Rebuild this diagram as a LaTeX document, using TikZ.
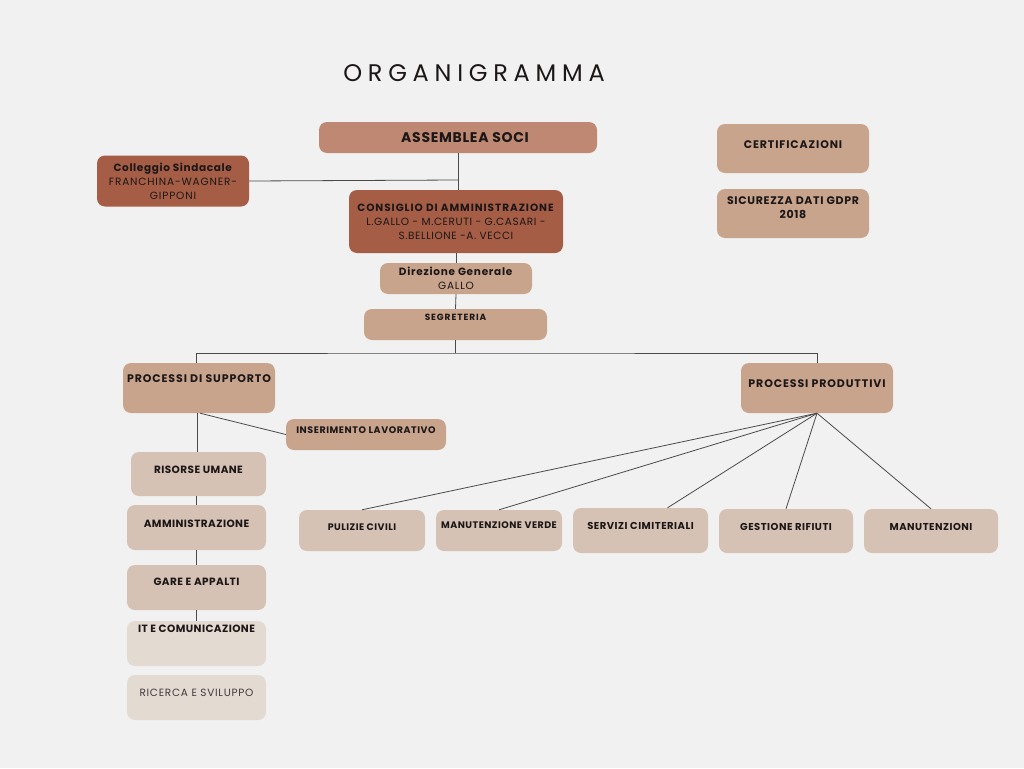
\documentclass[tikz,border=0pt]{standalone}
\usepackage{fontspec}
\setmainfont{Poppins}
\definecolor{paper}{HTML}{F1F1F1}
\definecolor{soci}{HTML}{BE8872}
\definecolor{rust}{HTML}{A65D45}
\definecolor{sand}{HTML}{C9A48D}
\definecolor{beige}{HTML}{D5C2B4}
\definecolor{pale}{HTML}{E3DAD2}
\definecolor{ink}{HTML}{1C1717}
\definecolor{wire}{HTML}{4A4A4A}
\newcommand{\spaced}[1]{\addfontfeature{LetterSpace=#1}}
\begin{document}
\begin{tikzpicture}[x=1pt,y=-1pt,
  box/.style={rounded corners=8pt,inner sep=0pt,text=ink,align=center},
  fs/.style 2 args={font=\fontsize{#1}{14}\selectfont\bfseries\spaced{#2}},
  sz/.style 2 args={minimum width=#1pt,minimum height=#2pt},
  lift/.style={text depth=#1pt},
  link/.style={draw=wire,line width=0.8pt}]
% Background
\fill[paper] (0,0) rectangle (1024,768);
\useasboundingbox (0,0) rectangle (1024,768);

% Title
\node[font=\fontsize{24}{24}\selectfont\spaced{24},text=ink] (title) at (474,73) {ORGANIGRAMMA};

% Governance
\node[box,fill=soci,sz={278}{31},fs={14}{5}] (soci) at (458,137.5) {\hspace*{14pt}ASSEMBLEA SOCI};
\node[box,fill=rust,sz={152}{51},font=\fontsize{10.5}{14}\selectfont] (sindacale) at (173,181)
  {\textbf{\spaced{6}Colleggio Sindacale}\\{\spaced{8}FRANCHINA-WAGNER-}\\{\spaced{8}GIPPONI}};
\node[box,fill=rust,sz={214}{63},font=\fontsize{10.5}{14}\selectfont] (cda) at (456,221.5)
  {\textbf{\spaced{9}CONSIGLIO DI AMMINISTRAZIONE}\\{\spaced{5.5}L.GALLO - M.CERUTI - G.CASARI -}\\{\spaced{5.5}S.BELLIONE -A. VECCI}};
\node[box,fill=sand,sz={152}{31},font=\fontsize{10.5}{14}\selectfont] (direzione) at (456,278.5)
  {\textbf{\spaced{7}Direzione Generale}\\{\spaced{8}GALLO}};
\node[box,fill=sand,sz={183}{31},fs={9}{10},lift=14] (segreteria) at (455.5,324.5) {SEGRETERIA};

% Side boxes
\node[box,fill=sand,sz={152}{49},fs={11}{8},lift=8] (certificazioni) at (793,148.5) {CERTIFICAZIONI};
\node[box,fill=sand,sz={152}{49},fs={11}{6},lift=12] (gdpr) at (793,213.5) {SICUREZZA DATI GDPR\\2018};

% Processi
\node[box,fill=sand,sz={152}{50},fs={11}{8},lift=19] (supporto) at (199,388) {PROCESSI DI SUPPORTO};
\node[box,fill=sand,sz={152}{50},fs={11}{8},lift=9] (produttivi) at (817,388) {PROCESSI PRODUTTIVI};
\node[box,fill=sand,sz={160}{31},fs={9.5}{6},lift=9] (inserimento) at (366,434.5) {INSERIMENTO LAVORATIVO};

% Supporto column
\node[box,fill=beige,sz={135}{44},fs={10.5}{4},lift=9] (risorse) at (198.5,474) {RISORSE UMANE};
\node[box,fill=beige,sz={139}{45},fs={10.5}{4},lift=8] (amministrazione) at (196.5,527.5) {AMMINISTRAZIONE};
\node[box,fill=beige,sz={139}{45},fs={10.5}{4},lift=12] (gare) at (196.5,587.5) {GARE E APPALTI};
\node[box,fill=pale,sz={139}{45},fs={10.5}{4},lift=30] (it) at (196.5,643.5) {IT E COMUNICAZIONE};
\node[box,fill=pale,sz={139}{45},lift=10,font=\fontsize{10.5}{14}\selectfont\spaced{7},text=ink!85] (ricerca) at (196.5,697.5) {RICERCA E SVILUPPO};

% Produttivi row
\node[box,fill=beige,sz={126}{41},fs={9.5}{5},lift=7] (pulizie) at (362,530.5) {PULIZIE CIVILI};
\node[box,fill=beige,sz={126}{41},fs={9.5}{5},lift=10] (verde) at (499,530.5) {MANUTENZIONE VERDE};
\node[box,fill=beige,sz={135}{45},fs={10}{5},lift=10] (cimiteriali) at (640.5,530.5) {SERVIZI CIMITERIALI};
\node[box,fill=beige,sz={134}{44},fs={10}{5},lift=9] (rifiuti) at (786,531) {GESTIONE RIFIUTI};
\node[box,fill=beige,sz={134}{44},fs={10}{5},lift=9] (manutenzioni) at (931,531) {MANUTENZIONI};

% Connectors
\coordinate (bus) at (456,353);
\draw[link] (soci.south) -- (soci.south |- cda.north);
\draw[link] (sindacale.east) -- ([yshift=1pt]soci.south |- sindacale.east);
\draw[link] (cda.south) -- (direzione.north);
\draw[link] (direzione.south) -- (segreteria.north);
\draw[link] (segreteria.south) -- (segreteria.south |- bus);
\draw[link] ([xshift=-3pt]supporto.north) |- (bus) -| (produttivi.north);
\draw[link] ([xshift=-2pt]supporto.south) -- ([xshift=-2pt]supporto.south |- risorse.north);
\draw[link] ([xshift=1pt]supporto.south) -- (inserimento.west);
\draw[link] (amministrazione.north |- risorse.south) -- (amministrazione.north);
\draw[link] (amministrazione.south) -- (gare.north);
\draw[link] (gare.south) -- (it.north);
\foreach \t in {pulizie,verde,rifiuti,manutenzioni}
  \draw[link] (produttivi.south) -- (\t.north);
\draw[link] (produttivi.south) -- ([xshift=27pt]cimiteriali.north);
\end{tikzpicture}
\end{document}
